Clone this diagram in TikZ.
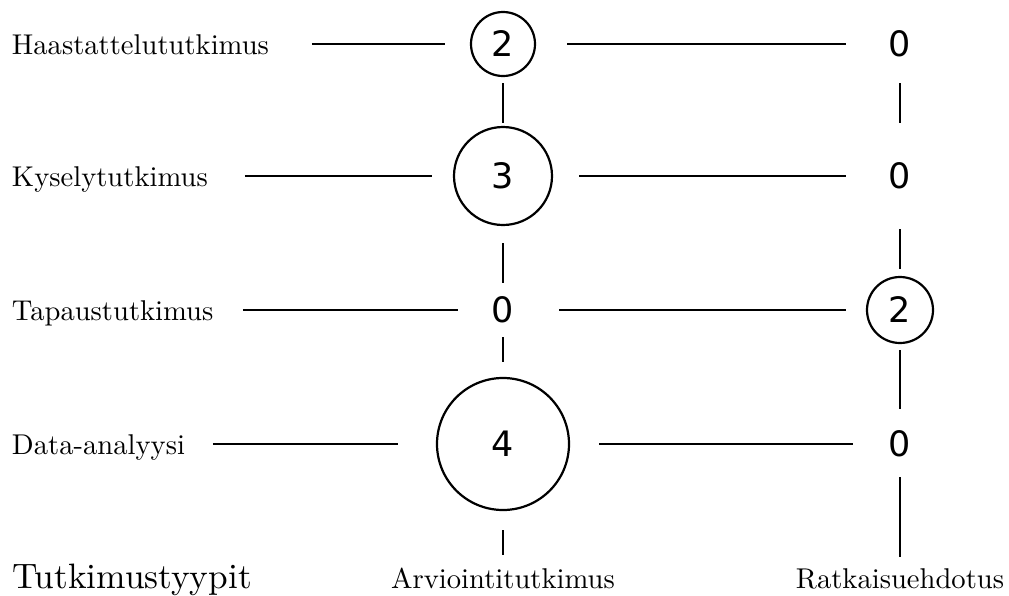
\documentclass[tikz,border=0pt]{standalone}
\usepackage{fontspec}
\setmainfont{lmroman10-regular}[Extension=.otf]
\newfontfamily\digitfont{DejaVu Sans}
\begin{document}
\begin{tikzpicture}[x=1pt,y=-1pt,
  lbl/.style={font=\fontsize{28.6}{34}\selectfont, inner sep=0pt, outer sep=0pt,
              text height=20pt, text depth=0pt},
  title/.style={font=\fontsize{35.3}{42}\selectfont, inner sep=0pt},
  numc/.style={circle, draw, line width=2.2pt, inner sep=0pt, outer sep=0pt,
               font=\digitfont\fontsize{35}{40}\selectfont},
  zero/.style={circle, inner sep=0pt, outer sep=0pt, minimum size=54pt,
               font=\digitfont\fontsize{35}{40}\selectfont},
  link/.style={line width=2.7pt}]
\useasboundingbox (0,0) rectangle (1009,595);

% research types (rows)
\node[lbl, anchor=west] (l1) at (12,44)  {Haastattelututkimus};
\node[lbl, anchor=west] (l2) at (12,176) {Kyselytutkimus};
\node[lbl, anchor=west] (l3) at (12,310) {Tapaustutkimus};
\node[lbl, anchor=west] (l4) at (12,444) {Data-analyysi};
\node[title, anchor=base west] (tt) at (12,588) {Tutkimustyypit};

% result types (columns)
\node[lbl, anchor=base] (la) at (503,588) {Arviointitutkimus};
\node[lbl, anchor=base] (lr) at (900,588) {Ratkaisuehdotus};

% counts, first column
\node[numc, minimum size=64pt]  (c12) at (503,44)  {2};
\node[numc, minimum size=98pt]  (c13) at (503,176) {3};
\node[zero]                     (z13) at (503,310) {0};
\node[numc, minimum size=132pt] (c14) at (503,444) {4};

% counts, second column
\node[zero]                     (z21) at (900,44)  {0};
\node[zero]                     (z22) at (900,176) {0};
\node[numc, minimum size=66pt]  (c23) at (900,310) {2};
\node[zero]                     (z24) at (900,444) {0};

% row connectors
\draw[link, shorten <=43pt, shorten >=26pt] (l1) -- (c12);
\draw[link, shorten <=32pt, shorten >=27pt] (c12) -- (z21);
\draw[link, shorten <=37pt, shorten >=22pt] (l2) -- (c13);
\draw[link, shorten <=27pt, shorten >=27pt] (c13) -- (z22);
\draw[link, shorten <=29.5pt, shorten >=18pt] (l3) -- (z13);
\draw[link, shorten <=29pt, shorten >=21pt] (z13) -- (c23);
\draw[link, shorten <=28pt, shorten >=39pt] (l4) -- (c14);
\draw[link, shorten <=30pt, shorten >=20pt] (c14) -- (z24);

% column connectors
\draw[link, shorten <=7pt,  shorten >=4pt]  (c12) -- (c13);
\draw[link, shorten <=18pt, shorten >=0pt]  (c13) -- (z13);
\draw[link, shorten <=0pt,  shorten >=16pt] (z13) -- (c14);
\draw[link, shorten <=20pt, shorten >=13pt] (c14) -- (la);
\draw[link, shorten <=12pt, shorten >=26pt] (z21) -- (z22);
\draw[link, shorten <=26pt, shorten >=8pt]  (z22) -- (c23);
\draw[link, shorten <=7pt,  shorten >=8pt]  (c23) -- (z24);
\draw[link, shorten <=6pt,  shorten >=11pt] (z24) -- (lr);
\end{tikzpicture}
\end{document}
